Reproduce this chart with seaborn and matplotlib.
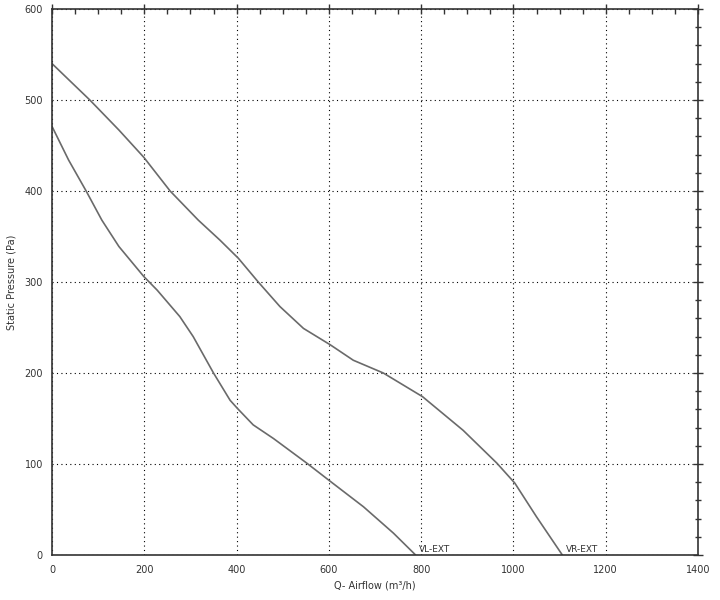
import numpy as np
import pandas as pd
import seaborn as sns
import matplotlib.pyplot as plt
from matplotlib.ticker import MultipleLocator

# fan curves
vr_flow = [0, 43, 82, 145, 199, 256, 317, 364, 404, 447, 494, 545, 603, 653, 718, 803, 891, 964, 1003, 1050, 1106]
vr_pres = [540, 519, 500, 467, 437, 400, 368, 346, 326, 300, 273, 249, 231, 214, 200, 174, 137, 101, 79, 42, 0]

vl_flow = [0, 36, 74, 108, 145, 199, 228, 277, 306, 350, 386, 402, 436, 480, 552, 603, 675, 740, 788]
vl_pres = [471, 434, 400, 368, 339, 306, 291, 262, 240, 200, 170, 161, 143, 128, 101, 81, 53, 24, 0]

curve_names = ["VR-EXT", "VL-EXT"]

df = pd.concat([
    pd.DataFrame({"flow": vr_flow, "pressure": vr_pres, "curve": curve_names[0]}),
    pd.DataFrame({"flow": vl_flow, "pressure": vl_pres, "curve": curve_names[1]}),
])

sns.set_style("white")
plt.rcParams['font.family'] = ['DejaVu Sans']

fig = plt.figure(figsize=(7.2, 6), dpi=100)
ax = fig.add_axes([52/720, 45/600, 646/720, 546/600])

sns.lineplot(data=df, x="flow", y="pressure", units="curve", estimator=None,
             sort=False, color="#6a6a6a", linewidth=1.2, ax=ax)

# end labels
for name, fl in zip(curve_names, [vr_flow, vl_flow]):
    ax.text(fl[-1] + 8, 1.5, name, fontsize=6.5, color="#333333", va="bottom", ha="left")

ax.set_xlim(0, 1400)
ax.set_ylim(0, 600)
ax.xaxis.set_major_locator(MultipleLocator(200))
ax.xaxis.set_minor_locator(MultipleLocator(50))
ax.yaxis.set_major_locator(MultipleLocator(100))
ax.yaxis.set_minor_locator(MultipleLocator(20))

ax.grid(True, which="major", color="black", linestyle=(0, (1, 3)), linewidth=0.8)
for s in ax.spines.values():
    s.set_color("#333333")
    s.set_linewidth(1.2)

ax.tick_params(axis="both", which="both", top=True, right=True, colors="#333333",
               labelsize=7, labelcolor="#333333", width=1)
ax.tick_params(axis="x", which="major", direction="inout", length=7, pad=4)
ax.tick_params(axis="x", which="minor", direction="in", length=3.5)
ax.tick_params(axis="y", which="major", direction="inout", length=7, pad=3)
ax.tick_params(axis="y", which="minor", direction="inout", length=5)

ax.set_xlabel("Q- Airflow (m³/h)", fontsize=7, color="#333333", labelpad=4)
ax.set_ylabel("Static Pressure (Pa)", fontsize=7, color="#333333", labelpad=6)

fig.savefig("out.png", dpi=100)
